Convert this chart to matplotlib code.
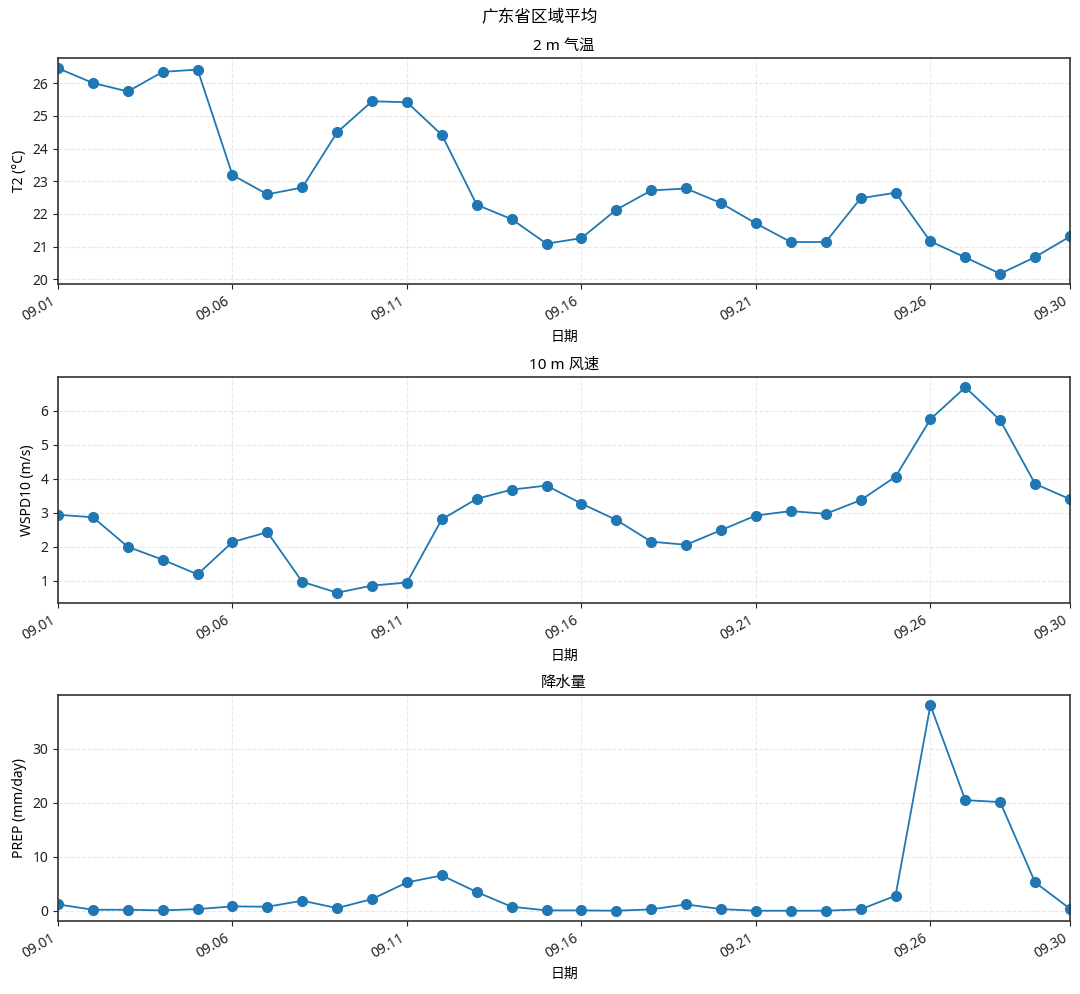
import matplotlib
matplotlib.use("Agg")
import matplotlib.pyplot as plt
import matplotlib.dates as mdates
import pandas as pd

plt.rcParams['font.family'] = ['Noto Sans', 'Noto Sans CJK SC', 'DejaVu Sans']
plt.rcParams['axes.unicode_minus'] = False

dates = pd.date_range("2023-09-01", "2023-09-30", freq="D")

t2 = [26.46, 26.01, 25.75, 26.35, 26.42, 23.19, 22.60, 22.81, 24.50, 25.45,
      25.42, 24.42, 22.28, 21.84, 21.09, 21.26, 22.13, 22.72, 22.78, 22.33,
      21.71, 21.14, 21.14, 22.48, 22.65, 21.16, 20.67, 20.17, 20.68, 21.31]

wspd10 = [2.94, 2.87, 2.00, 1.62, 1.19, 2.14, 2.43, 0.97, 0.65, 0.86,
          0.95, 2.81, 3.41, 3.68, 3.80, 3.27, 2.79, 2.15, 2.06, 2.49,
          2.92, 3.05, 2.97, 3.37, 4.06, 5.75, 6.69, 5.72, 3.85, 3.40]

prep = [1.17, 0.18, 0.18, 0.06, 0.30, 0.80, 0.74, 1.85, 0.49, 2.16,
        5.24, 6.53, 3.45, 0.74, 0.06, 0.06, 0.00, 0.25, 1.17, 0.30,
        0.00, 0.00, 0.00, 0.25, 2.77, 38.0, 20.46, 20.09, 5.24, 0.37]

titles = ["2 m 气温", "10 m 风速", "降水量"]
ylabels = ["T2 (°C)", "WSPD10 (m/s)", "PREP (mm/day)"]
series = [t2, wspd10, prep]
suptitle = "广东省区域平均"
xlabel = "日期"

W, H = 1080, 994
fig = plt.figure(figsize=(W / 100, H / 100), dpi=100)

left, right = 58, 1070
tops = [58, 377, 695]
height = 226

tick_dates = list(dates[::5]) + [dates[-1]]

for i in range(3):
    top = tops[i]
    ax = fig.add_axes([left / W, 1 - (top + height) / H, (right - left) / W, height / H])
    ax.plot(dates, series[i], color="#1f77b4", marker="o", markersize=7, linewidth=1.3)
    ax.set_xlim(dates[0], dates[-1])
    ax.set_xticks(tick_dates)
    ax.xaxis.set_major_formatter(mdates.DateFormatter("%m.%d"))
    for lbl in ax.get_xticklabels():
        lbl.set_rotation(30)
        lbl.set_ha("right")
    ax.tick_params(labelsize=10, colors="#222222")
    ax.set_title(titles[i], fontsize=11, pad=6)
    ax.set_ylabel(ylabels[i], fontsize=10)
    ax.set_xlabel(xlabel, fontsize=10)
    ax.grid(True, linestyle="--", color="#cccccc", alpha=0.45, linewidth=0.8)
    for s in ax.spines.values():
        s.set_color("#333333")
        s.set_linewidth(1.2)

fig.text(0.5, 1 - 18 / H, suptitle, ha="center", va="center", fontsize=12)

fig.savefig("out.png", dpi=100)
